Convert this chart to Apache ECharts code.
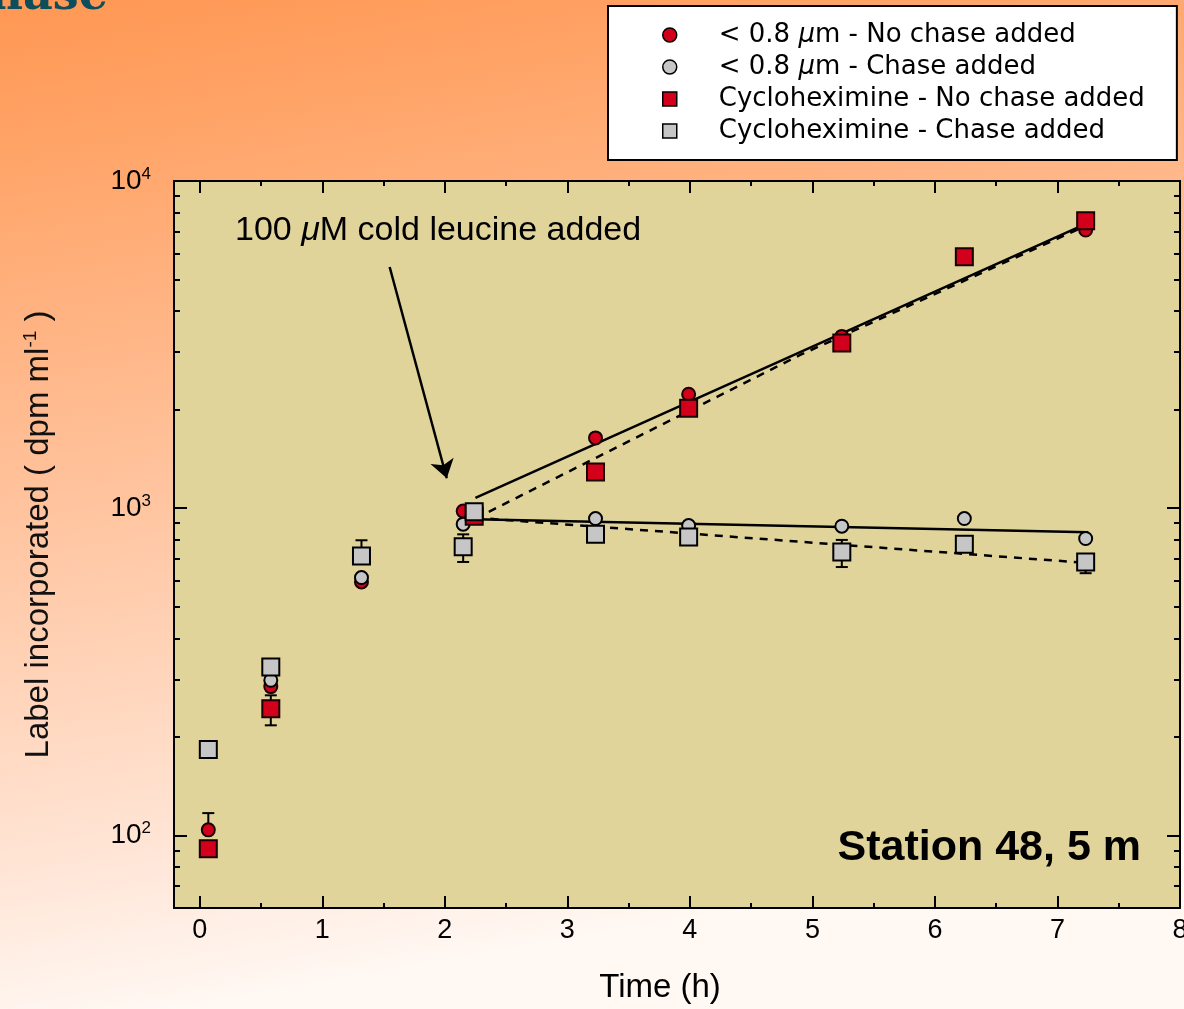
<!DOCTYPE html>
<html><head><meta charset="utf-8">
<script src="https://cdn.jsdelivr.net/npm/echarts@6/dist/echarts.min.js"></script>
<style>html,body{margin:0;padding:0;}#c{width:1184px;height:1009px;}</style>
</head><body><div id="c"></div>
<script>
// ---- data ----
const xMajorTicks = [0, 1, 2, 3, 4, 5, 6, 7, 8];
const xMinorTicks = [0.5, 1.5, 2.5, 3.5, 4.5, 5.5, 6.5, 7.5];
const yMajorTicks = [100, 1000, 10000];
const yMinorTicks = [60, 70, 80, 90, 200, 300, 400, 500, 600, 700, 800, 900,
                     2000, 3000, 4000, 5000, 6000, 7000, 8000, 9000];
const seriesNames = ['< 0.8 μm - No chase added', '< 0.8 μm - Chase added',
                     'Cycloheximine - No chase added', 'Cycloheximine - Chase added'];
const redCircle = [[0.07, 104], [0.58, 285], [1.32, 595], [2.15, 980], [3.23, 1640],
                   [3.99, 2230], [5.24, 3350], [6.24, 5800], [7.23, 7080]];
const greyCircle = [[0.58, 298], [1.32, 614], [2.15, 894], [3.23, 930], [3.99, 885],
                    [5.24, 881], [6.24, 930], [7.23, 808]];
const redSquare = [[0.07, 91], [0.58, 244], [2.24, 945], [3.23, 1290], [3.99, 2020],
                   [5.24, 3200], [6.24, 5870], [7.23, 7560]];
const greySquare = [[0.07, 183], [0.58, 327], [1.32, 715], [2.15, 762], [2.24, 975],
                    [3.23, 833], [3.99, 817], [5.24, 735], [6.24, 776], [7.23, 685]];
// [time, low, high]
const errorBars = [[0.07, 104, 117], [0.58, 217, 268], [1.32, 715, 798], [2.15, 685, 832],
                   [5.24, 661, 800], [6.24, 776, 804], [7.23, 633, 685]];
// exponential fits (straight on the log axis)
const fitNoChaseFraction = [[2.25, 1075], [7.25, 7450]];
const fitNoChaseCyclo = [[2.25, 930], [4.9, 2940], [7.25, 7350]];
const fitChaseFraction = [[2.25, 925], [7.25, 845]];
const fitChaseCyclo = [[2.25, 935], [7.25, 680]];
const arrowFrom = [1.55, 5460];
const arrowTo = [2.016, 1235];

// ---- styles ----
const FONT = 'Liberation Sans, Arial, Helvetica, sans-serif';
const RED = '#d2001a';
const GREY = '#c6c6c6';
const XMIN = -0.21, XMAX = 8, YMIN = 60, YMAX = 10000;

function xAx(position, ticks, len, main) {
  return {
    type: 'value', position: position, min: XMIN, max: XMAX,
    axisLine: { show: main, onZero: false, lineStyle: { color: '#000', width: 2 } },
    axisTick: { show: true, inside: true, length: len, customValues: ticks,
                lineStyle: { color: '#000', width: 2 } },
    axisLabel: { show: main && position === 'bottom', customValues: ticks, margin: 9,
                 fontSize: 27, fontFamily: FONT, color: '#000' },
    splitLine: { show: false }, minorTick: { show: false },
    name: (main && position === 'bottom') ? 'Time (h)' : '',
    nameLocation: 'middle', nameGap: 63,
    nameTextStyle: { fontSize: 33, fontFamily: FONT, color: '#000', padding: [0, 34, 0, 0] }
  };
}
function yAx(position, ticks, len, main) {
  const showLab = main && position === 'left';
  return {
    type: 'log', logBase: 10, position: position, min: YMIN, max: YMAX,
    axisLine: { show: main, onZero: false, lineStyle: { color: '#000', width: 2 } },
    axisTick: { show: true, inside: true, length: len, customValues: ticks,
                lineStyle: { color: '#000', width: 2 } },
    axisLabel: {
      show: showLab, customValues: ticks, margin: 23, color: '#000',
      formatter: v => '{b|10}{s|' + Math.round(Math.log10(v)) + '}',
      rich: { b: { fontSize: 28, fontFamily: FONT, color: '#000' },
              s: { fontSize: 17, fontFamily: FONT, color: '#000', padding: [0, 0, 14, 0] } }
    },
    splitLine: { show: false }, minorTick: { show: false },
    name: showLab ? 'Label incorporated ( dpm ml{sup|-1} )' : '',
    nameLocation: 'middle', nameGap: 118,
    nameTextStyle: { fontSize: 33, fontFamily: FONT, color: '#111', padding: [0, 0, 0, 20],
      rich: { sup: { fontSize: 19, fontFamily: FONT, color: '#111', padding: [0, 0, 16, 0] } } }
  };
}

const chart = echarts.init(document.getElementById('c'), null, { renderer: 'canvas' });

const markerBase = { type: 'scatter', xAxisIndex: 0, yAxisIndex: 0, silent: true,
                     emphasis: { disabled: true } };
function fitLine(name, data, dashed, extra) {
  return Object.assign({
    type: 'line', name: name, data: data, xAxisIndex: 0, yAxisIndex: 0,
    showSymbol: false, symbol: 'none', silent: true, z: 1,
    lineStyle: { color: '#000', width: 2.5, type: dashed ? [8, 7] : 'solid' },
    emphasis: { disabled: true }
  }, extra || {});
}

const option = {
  animation: false,
  backgroundColor: 'transparent',
  grid: { left: 174, right: 4, top: 181, bottom: 101, show: true,
          backgroundColor: '#e1d49b', borderWidth: 0, containLabel: false,
          outerBoundsMode: 'none' },
  graphic: [
    { type: 'rect', z: -100, silent: true, shape: { x: 0, y: 0, width: 1184, height: 1009 },
      style: { fill: { type: 'linear', x: 0, y: 0, x2: 0.15, y2: 1, colorStops: [
        { offset: 0, color: '#ff9753' }, { offset: 0.15, color: '#ffa468' },
        { offset: 0.5, color: '#ffc49f' }, { offset: 0.84, color: '#ffe5d6' },
        { offset: 1, color: '#fff8f3' }] } } },
    { type: 'text', z: 5, silent: true,
      style: { x: 108, y: 20, text: 'Chase', align: 'right', verticalAlign: 'bottom',
               font: 'bold 46px "DejaVu Serif", serif', fill: '#0e4d5c',
               textShadowColor: 'rgba(220,220,220,0.9)', textShadowOffsetX: 2, textShadowOffsetY: 2 } },
    { type: 'text', z: 50, silent: true,
      style: { x: 235, y: 231, text: '100 {i|μ}M cold leucine added', align: 'left',
               verticalAlign: 'middle', fontSize: 34, fontFamily: FONT, fill: '#000',
               rich: { i: { fontSize: 34, fontFamily: FONT, fontStyle: 'italic', fill: '#000' } } } },
    { type: 'text', z: 50, silent: true,
      style: { x: 1141, y: 848, text: 'Station 48, 5 m', align: 'right', verticalAlign: 'middle',
               fontSize: 43, fontWeight: 'bold', fontFamily: FONT, fill: '#000' } }
  ],
  legend: {
    orient: 'vertical', left: 608, top: 6, padding: [16, 32, 16, 54],
    itemWidth: 88, itemHeight: 14, itemGap: 6,
    backgroundColor: '#ffffff', borderColor: '#000', borderWidth: 2,
    selectedMode: false,
    textStyle: { fontFamily: 'DejaVu Sans', fontSize: 26, lineHeight: 26, color: '#000',
                 rich: { i: { fontFamily: 'DejaVu Sans', fontSize: 26, fontStyle: 'italic', color: '#000' } } },
    formatter: n => n.replace('μ', '{i|μ}'),
    data: [
      { name: seriesNames[0], icon: 'circle', itemStyle: { color: RED, borderColor: '#000', borderWidth: 1.5 } },
      { name: seriesNames[1], icon: 'circle', itemStyle: { color: GREY, borderColor: '#000', borderWidth: 1.5 } },
      { name: seriesNames[2], icon: 'path://M0 0H10V10H0Z', itemStyle: { color: RED, borderColor: '#000', borderWidth: 1.5 } },
      { name: seriesNames[3], icon: 'path://M0 0H10V10H0Z', itemStyle: { color: GREY, borderColor: '#000', borderWidth: 1.5 } }
    ]
  },
  xAxis: [
    xAx('bottom', xMajorTicks, 12, true),
    xAx('bottom', xMinorTicks, 5, false),
    xAx('top', xMajorTicks, 12, true),
    xAx('top', xMinorTicks, 5, false)
  ],
  yAxis: [
    yAx('left', yMajorTicks, 13, true),
    yAx('left', yMinorTicks, 6, false),
    yAx('right', yMajorTicks, 13, true),
    yAx('right', yMinorTicks, 6, false)
  ],
  series: [
    fitLine('fit-a', fitNoChaseFraction, false, {
      markLine: { silent: true, symbol: ['none', 'arrow'], symbolSize: 18,
                  lineStyle: { color: '#000', width: 2.5, type: 'solid' }, label: { show: false },
                  emphasis: { disabled: true },
                  data: [[{ coord: arrowFrom }, { coord: arrowTo }]] } }),
    fitLine('fit-b', fitNoChaseCyclo, true),
    fitLine('fit-c', fitChaseFraction, false),
    fitLine('fit-d', fitChaseCyclo, true),
    {
      type: 'custom', name: 'error bars', data: errorBars, xAxisIndex: 0, yAxisIndex: 0,
      silent: true, z: 2, encode: { x: 0, y: [1, 2] },
      renderItem: (params, api) => {
        const x = api.value(0), lo = api.value(1), hi = api.value(2);
        const p1 = api.coord([x, lo]), p2 = api.coord([x, hi]);
        const w = 6, st = { stroke: '#000', lineWidth: 2 };
        return { type: 'group', children: [
          { type: 'line', shape: { x1: p1[0], y1: p1[1], x2: p2[0], y2: p2[1] }, style: st },
          { type: 'line', shape: { x1: p1[0] - w, y1: p1[1], x2: p1[0] + w, y2: p1[1] }, style: st },
          { type: 'line', shape: { x1: p2[0] - w, y1: p2[1], x2: p2[0] + w, y2: p2[1] }, style: st }
        ] };
      }
    },
    Object.assign({}, markerBase, { name: seriesNames[0], data: redCircle, symbol: 'circle', symbolSize: 13, z: 3,
      itemStyle: { color: RED, borderColor: '#1a0000', borderWidth: 2, opacity: 1 } }),
    Object.assign({}, markerBase, { name: seriesNames[1], data: greyCircle, symbol: 'circle', symbolSize: 13, z: 3,
      itemStyle: { color: GREY, borderColor: '#000', borderWidth: 2, opacity: 1 } }),
    Object.assign({}, markerBase, { name: seriesNames[2], data: redSquare, symbol: 'rect', symbolSize: 17, z: 4,
      itemStyle: { color: RED, borderColor: '#1a0000', borderWidth: 2, opacity: 1 } }),
    Object.assign({}, markerBase, { name: seriesNames[3], data: greySquare, symbol: 'rect', symbolSize: 17, z: 4,
      itemStyle: { color: GREY, borderColor: '#000', borderWidth: 2, opacity: 1 } })
  ]
};
chart.setOption(option);
</script>
</body></html>
